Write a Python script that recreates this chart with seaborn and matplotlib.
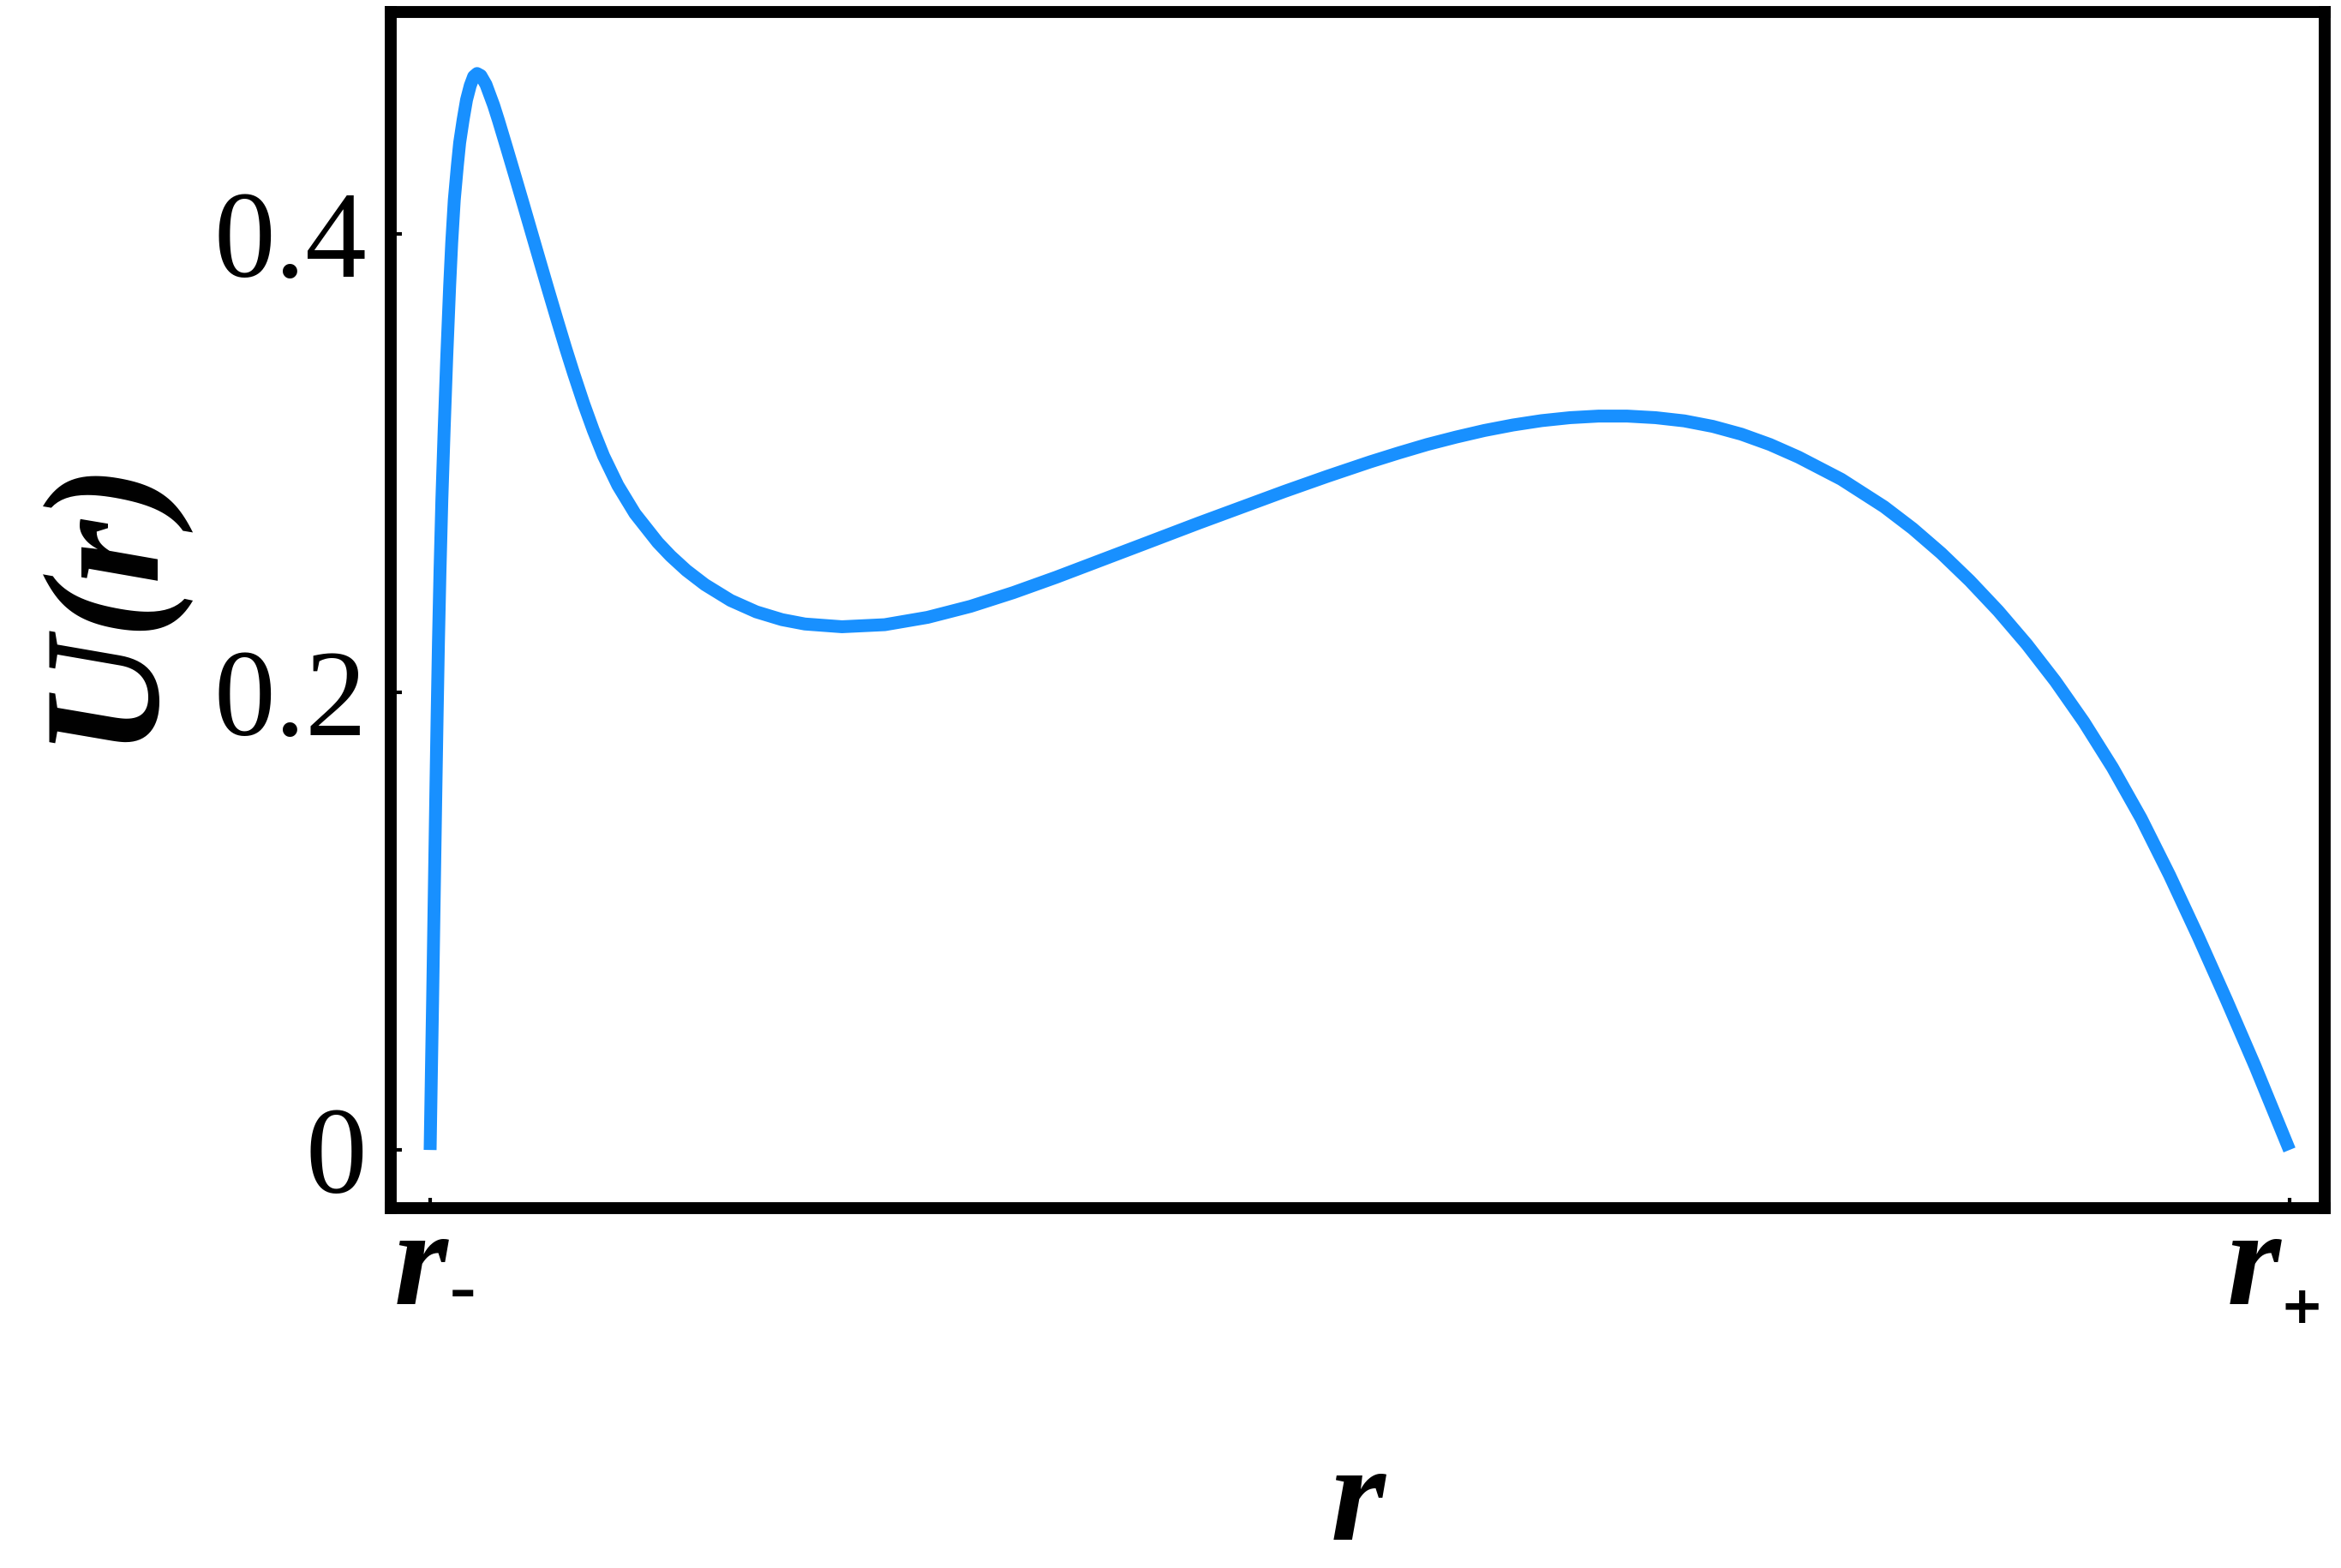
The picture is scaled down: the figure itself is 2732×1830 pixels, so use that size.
import numpy as np
import pandas as pd
import seaborn as sns
import matplotlib.pyplot as plt
from matplotlib.transforms import ScaledTranslation, blended_transform_factory

# curve (r scaled so that r- = 0 and r+ = 1)
r_vals = [0.0, 0.00069, 0.00134, 0.00194, 0.00253, 0.00313, 0.00378, 0.00447, 0.0053, 0.00631,
          0.00756, 0.00894, 0.01051, 0.01161, 0.01299, 0.01465, 0.01589, 0.01774, 0.01958, 0.02156,
          0.0234, 0.02524,
          0.02727, 0.03003, 0.03418, 0.03676, 0.04109, 0.04597, 0.0503, 0.05491, 0.05906, 0.06334,
          0.06827, 0.07288, 0.07716, 0.08255, 0.08776, 0.09328, 0.10098, 0.11019, 0.12244, 0.12935,
          0.13783, 0.14778, 0.1616, 0.17542, 0.18924, 0.20153, 0.22148,
          0.24451, 0.26755, 0.29058, 0.31361, 0.33665, 0.35968, 0.38271, 0.41344, 0.43647, 0.4595,
          0.48254, 0.50557, 0.52091, 0.5363, 0.55164, 0.56698, 0.58236, 0.5977, 0.61304, 0.62843,
          0.64377, 0.65911, 0.67449, 0.68984, 0.70518, 0.72056, 0.7359,
          0.75894, 0.78197, 0.79731, 0.8127, 0.82804, 0.84338, 0.85876, 0.8741, 0.88944, 0.90483,
          0.92017, 0.93551, 0.9509, 0.96624, 0.98158, 1.0]
u_vals = [0.0, 0.0344, 0.0656, 0.0969, 0.128, 0.159, 0.1905, 0.2216, 0.2526, 0.284,
          0.3151, 0.3463, 0.3775, 0.3962, 0.4149, 0.4299, 0.4399, 0.4499, 0.4586, 0.4648,
          0.4688, 0.4701,
          0.4692, 0.4653, 0.4562, 0.4496, 0.4379, 0.4245, 0.4125, 0.3996, 0.388, 0.3761,
          0.3626, 0.3502, 0.3392, 0.326, 0.3143, 0.3031, 0.2902, 0.2779, 0.2653, 0.2594,
          0.2531, 0.2469, 0.24, 0.235, 0.2316, 0.2297, 0.2285,
          0.2294, 0.2326, 0.2374, 0.2434, 0.2501, 0.2572, 0.2643, 0.2738, 0.2807, 0.2876,
          0.2942, 0.3005, 0.3044, 0.3081, 0.3113, 0.3142, 0.3166, 0.3185, 0.3198, 0.3205,
          0.3205, 0.3198, 0.3184, 0.316, 0.3126, 0.3081, 0.3026,
          0.2929, 0.2809, 0.2714, 0.2606, 0.2486, 0.2354, 0.2208, 0.2047, 0.1869, 0.167,
          0.1449, 0.12, 0.0932, 0.0653, 0.0365, 0.0]

x_ticks = [0, 1]
x_tick_labels = ['r', 'r']
x_tick_subs = ['\u2013', '+']
y_ticks = [0, 0.2, 0.4]
y_tick_labels = ['0', '0.2', '0.4']

sns.set_theme(style='white')
serif = ['Liberation Serif', 'DejaVu Sans']
plt.rcParams['font.family'] = serif
plt.rcParams['text.color'] = 'black'
plt.rcParams['axes.labelcolor'] = 'black'
plt.rcParams['xtick.color'] = 'black'
plt.rcParams['ytick.color'] = 'black'

df = pd.DataFrame({'r': r_vals, 'U': u_vals})

fig = plt.figure(figsize=(27.32, 18.30), dpi=100)
ax = fig.add_axes([0.1669, 0.2295, 0.8261, 0.7629])

sns.lineplot(data=df, x='r', y='U', ax=ax, color='#1890FF', linewidth=10.8,
             estimator=None, sort=False)
ax.lines[0].set_solid_capstyle('butt')
ax.lines[0].set_solid_joinstyle('round')

ax.set_xlim(-0.0212, 1.0189)
ax.set_ylim(-0.0254, 0.497)

for s in ax.spines.values():
    s.set_visible(True)
    s.set_color('black')
    s.set_linewidth(10)

ax.set_xticks(x_ticks)
ax.set_xticklabels(x_tick_labels, fontsize=116, fontstyle='italic', fontweight='bold',
                   family=serif, color='black')
ax.set_yticks(y_ticks)
ax.set_yticklabels(y_tick_labels, fontsize=103, family=serif, color='black')
ax.tick_params(axis='both', direction='in', length=9, width=3, color='black',
               bottom=True, left=True, top=False, right=False)
ax.tick_params(axis='x', pad=0)
ax.tick_params(axis='y', pad=20)

# nudge the r labels left so that r + subscript sits over the tick
shifts = [-0.11, -0.42]
for lab, dx in zip(ax.get_xticklabels(), shifts):
    lab.set_transform(lab.get_transform() + ScaledTranslation(dx, 0, fig.dpi_scale_trans))

# subscripts of r- and r+
sub_tr = blended_transform_factory(ax.transData, ax.transAxes)
sub_x = [0.0176, 1.0065]
sub_y = [-0.0715, -0.0845]
for xs, ys, txt in zip(sub_x, sub_y, x_tick_subs):
    ax.text(xs, ys, txt, transform=sub_tr, fontsize=44, fontweight='bold',
            family='DejaVu Sans', color='black', ha='center', va='center', clip_on=False)

ax.set_xlabel('r', fontsize=118, fontstyle='italic', fontweight='bold', family=serif)
ax.xaxis.label.set_va('baseline')
ax.xaxis.set_label_coords(0.5, -0.277)

ax.set_ylabel('U(r)', fontsize=138, fontstyle='italic', fontweight='bold', family=serif)
ax.yaxis.label.set_va('center')
ax.yaxis.set_label_coords(-0.1475, 0.511)

fig.savefig('out.png', dpi=100, facecolor='white')
